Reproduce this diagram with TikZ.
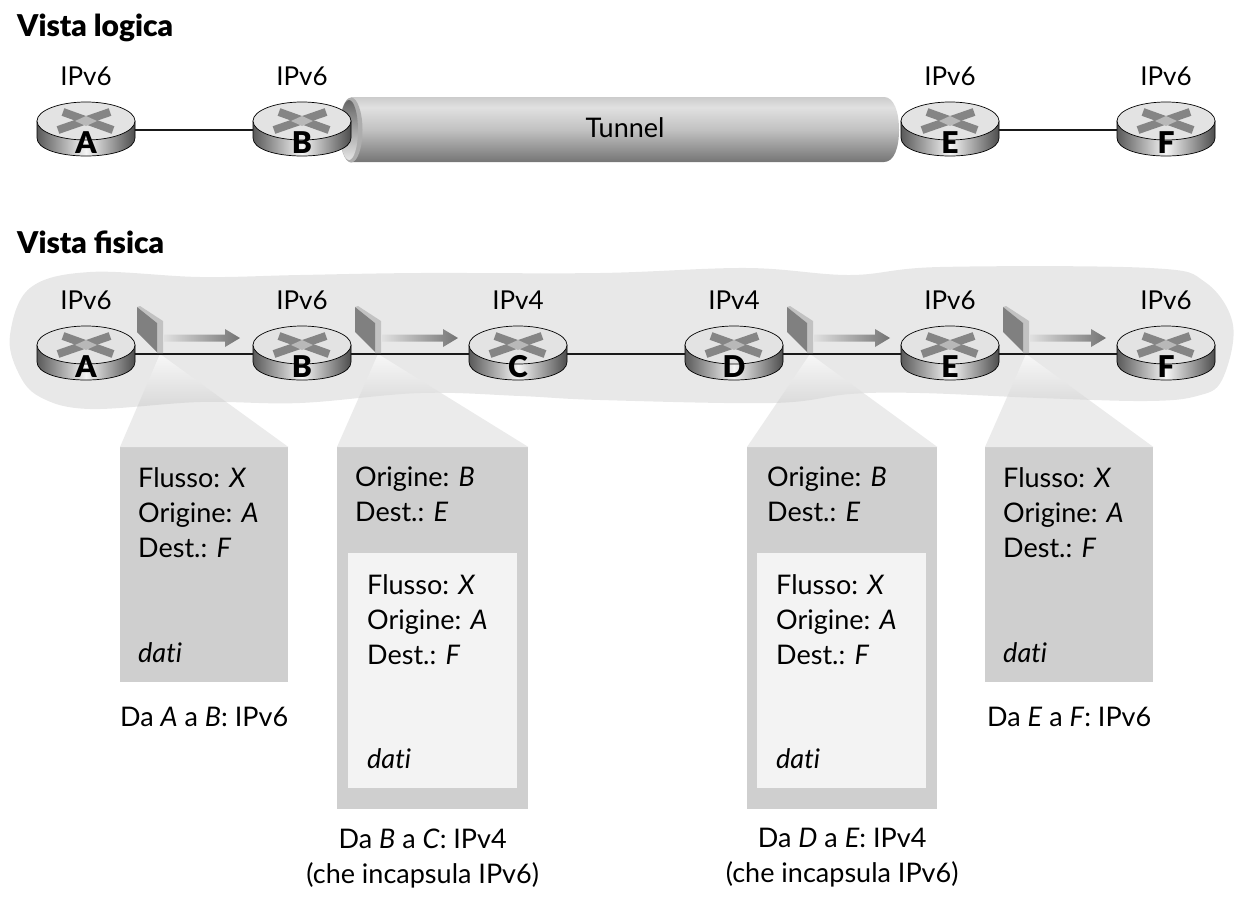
\documentclass[tikz,border=0pt]{standalone}
\usepackage{fontspec}
\setmainfont{Lato}[Ligatures=CommonOff]
\newfontfamily\HeavyFont{Lato Black}
\usetikzlibrary{positioning}
\definecolor{BlobGray}{HTML}{E8E8E8}
\definecolor{BoxGray}{HTML}{CFCFCF}
\definecolor{InnerGray}{HTML}{F3F3F3}
\definecolor{WallGray}{HTML}{808080}
\definecolor{WallLight}{HTML}{C2C2C2}
\tikzstyle{RouterBase}=[rectangle, inner sep=0pt, minimum width=98pt, minimum height=54pt]
\tikzstyle{RouterLetter}=[inner sep=0pt, font=\fontsize{30}{30}\selectfont\HeavyFont]
\tikzstyle{Ver}=[inner sep=0pt, font=\fontsize{26}{30}\selectfont]
\tikzstyle{Title}=[inner sep=0pt, anchor=west, font=\fontsize{30}{30}\selectfont\HeavyFont]
\tikzstyle{Packet}=[rectangle, fill=BoxGray, inner sep=0pt, anchor=north west]
\tikzstyle{PacketIn}=[rectangle, fill=InnerGray, inner sep=0pt, anchor=north west]
\tikzstyle{PacketText}=[inner sep=0pt, anchor=north west, align=left, font=\fontsize{27}{35}\selectfont]
\tikzstyle{Caption}=[inner sep=0pt, align=center, font=\fontsize{27}{35}\selectfont]
\tikzstyle{Line}=[-, line width=2pt, black!90]
\pgfdeclareverticalshading{TunnelShade}{100bp}{color(0bp)=(black!54); color(25bp)=(black!54); color(50bp)=(black!24); color(67bp)=(black!12); color(75bp)=(black!20); color(100bp)=(black!20)}
\newcommand{\FlowText}{Flusso: \textit{X}\\Origine: \textit{A}\\Dest.: \textit{F}}
\newcommand{\BlobPath}{plot[smooth cycle, tension=0.6] coordinates {(10,335) (30,288) (90,272) (200,277) (300,275) (420,273) (600,273) (747,268) (850,275) (940,267) (1150,268) (1205,282) (1233,325) (1222,380) (1197,396) (1147,401) (1040,398) (920,393) (850,394) (773,403) (600,400) (520,396) (420,393) (300,403) (200,402) (90,409) (40,397) (18,372)}}
% router: name, position, letter
\newcommand{\Router}[3]{
	\begin{scope}[shift={(#2)}]
		\draw[black, line width=0.7pt, left color=black!65, right color=black!70, middle color=black!4]
			(-49,-9) -- (-49,8) .. controls (-49,19) and (-27,26) .. (0,26) .. controls (27,26) and (49,19) .. (49,8) -- (49,-9) -- cycle;
		\draw[black, line width=0.7pt, fill=black!11] (0,-9) circle[x radius=49pt, y radius=19pt];
		\draw[black!48, line width=8pt] (-23,-18) -- (27,0);
		\draw[black!48, line width=8pt] (24,-18) -- (-28,0);
		\fill[black!28] (0,-14) -- (11,-9) -- (0,-4) -- (-11,-9) -- cycle;
	\end{scope}
	\node[RouterBase] (#1) at (#2) {};
	\node[RouterLetter] (#1_letter) at ([yshift=-12.5pt]#1) {#3};
}
% panel and arrow on a link
\newcommand{\Wall}[1]{
	\begin{scope}[shift={(#1)}]
		\fill[WallLight] (-26,-47) -- (-23,-48) -- (0,-33) -- (0,-1) -- (-6,-1) -- (-6,-31) -- cycle;
		\fill[WallGray] (-26,-47) -- (-6,-31) -- (-6,-2) -- (-26,-22) -- cycle;
		\shade[left color=black!12, right color=black!55]
			(1,-19.5) -- (62,-19.5) -- (62,-25) -- (77,-16) -- (62,-7) -- (62,-12.5) -- (1,-12.5) -- cycle;
	\end{scope}
}
% light cone from a link to a packet
\newcommand{\Cone}[2]{
	\fill[black!8] (#1) -- (#2.north west) -- (#2.north east) -- cycle;
	\begin{scope}
		\clip \BlobPath;
		\shade[top color=black!3, bottom color=black!24] (#1) -- (#2.north west) -- (#2.north east) -- cycle;
	\end{scope}
}
\begin{document}
\begin{tikzpicture}[x=1pt, y=-1pt]
	\useasboundingbox (0,0) rectangle (1246,902);
	%Titles
	\node[Title] (logical) at (17,28) {Vista logica};
	\node[Title] (physical) at (17,242) {Vista fisica};

	%Logical view
	\shade[shading=TunnelShade] (351,97) -- (884,97) .. controls (894,97) and (899,112) .. (899,130) .. controls (899,148) and (894,162) .. (884,162) -- (351,162) -- cycle;
	\fill[black!32] (351,130) circle[x radius=11.5pt, y radius=32.5pt];
	\shade[top color=black!60, bottom color=black!10] (349,130) circle[x radius=9pt, y radius=30pt];
	\node[inner sep=0pt, font=\fontsize{27}{30}\selectfont] (tunnel) at (625,128) {Tunnel};

	\Router{lA}{86,130}{A}
	\Router{lB}{302,130}{B}
	\Router{lE}{950,130}{E}
	\Router{lF}{1166,130}{F}
	\draw[Line] (lA) -- (lB);
	\draw[Line] (lE) -- (lF);
	\node[Ver, above=17pt of lA] (lA_ver) {IPv6};
	\node[Ver, above=17pt of lB] (lB_ver) {IPv6};
	\node[Ver, above=17pt of lE] (lE_ver) {IPv6};
	\node[Ver, above=17pt of lF] (lF_ver) {IPv6};

	%Physical view
	\fill[BlobGray] \BlobPath;

	\node[Packet, minimum width=168pt, minimum height=235pt] (pkt1) at (120,447) {};
	\node[Packet, minimum width=191pt, minimum height=362pt] (pkt2) at (337,447) {};
	\node[Packet, minimum width=190pt, minimum height=362pt] (pkt3) at (747,447) {};
	\node[Packet, minimum width=168pt, minimum height=235pt] (pkt4) at (985,447) {};
	\node[PacketIn, minimum width=169pt, minimum height=235pt] (pkt2_in) at (348,553) {};
	\node[PacketIn, minimum width=169pt, minimum height=235pt] (pkt3_in) at (757,553) {};

	\coordinate (cone1) at (160,354);
	\coordinate (cone2) at (378,354);
	\coordinate (cone3) at (810,354);
	\coordinate (cone4) at (1026,354);
	\Cone{cone1}{pkt1}
	\Cone{cone2}{pkt2}
	\Cone{cone3}{pkt3}
	\Cone{cone4}{pkt4}

	\Router{pA}{86,354}{A}
	\Router{pB}{302,354}{B}
	\Router{pC}{518,354}{C}
	\Router{pD}{734,354}{D}
	\Router{pE}{950,354}{E}
	\Router{pF}{1166,354}{F}
	\draw[Line] (pA) -- (pB);
	\draw[Line] (pB) -- (pC);
	\draw[Line] (pC) -- (pD);
	\draw[Line] (pD) -- (pE);
	\draw[Line] (pE) -- (pF);
	\node[Ver, above=17pt of pA] (pA_ver) {IPv6};
	\node[Ver, above=17pt of pB] (pB_ver) {IPv6};
	\node[Ver, above=17pt of pC] (pC_ver) {IPv4};
	\node[Ver, above=17pt of pD] (pD_ver) {IPv4};
	\node[Ver, above=17pt of pE] (pE_ver) {IPv6};
	\node[Ver, above=17pt of pF] (pF_ver) {IPv6};

	\Wall{163,354}
	\Wall{381,354}
	\Wall{813,354}
	\Wall{1029,354}

	%Packets
	\node[PacketText] (pkt1_head) at ([shift={(18,20)}]pkt1.north west) {\FlowText};
	\node[PacketText] (pkt1_data) at ([shift={(18,195)}]pkt1.north west) {\textit{dati}};
	\node[PacketText] (pkt2_head) at ([shift={(18,20)}]pkt2.north west) {Origine: \textit{B}\\Dest.: \textit{E}};
	\node[PacketText] (pkt2_flow) at ([shift={(19,21)}]pkt2_in.north west) {\FlowText};
	\node[PacketText] (pkt2_data) at ([shift={(19,195)}]pkt2_in.north west) {\textit{dati}};
	\node[PacketText] (pkt3_head) at ([shift={(20,20)}]pkt3.north west) {Origine: \textit{B}\\Dest.: \textit{E}};
	\node[PacketText] (pkt3_flow) at ([shift={(19,21)}]pkt3_in.north west) {\FlowText};
	\node[PacketText] (pkt3_data) at ([shift={(19,195)}]pkt3_in.north west) {\textit{dati}};
	\node[PacketText] (pkt4_head) at ([shift={(18,20)}]pkt4.north west) {\FlowText};
	\node[PacketText] (pkt4_data) at ([shift={(18,195)}]pkt4.north west) {\textit{dati}};

	%Captions
	\node[Caption, below=25pt of pkt1] (pkt1_cap) {Da \textit{A} a \textit{B}: IPv6};
	\node[Caption, below=19pt of pkt2, xshift=-10pt] (pkt2_cap) {Da \textit{B} a \textit{C}: IPv4\\(che incapsula IPv6)};
	\node[Caption, below=19pt of pkt3] (pkt3_cap) {Da \textit{D} a \textit{E}: IPv4\\(che incapsula IPv6)};
	\node[Caption, below=25pt of pkt4] (pkt4_cap) {Da \textit{E} a \textit{F}: IPv6};
\end{tikzpicture}
\end{document}
